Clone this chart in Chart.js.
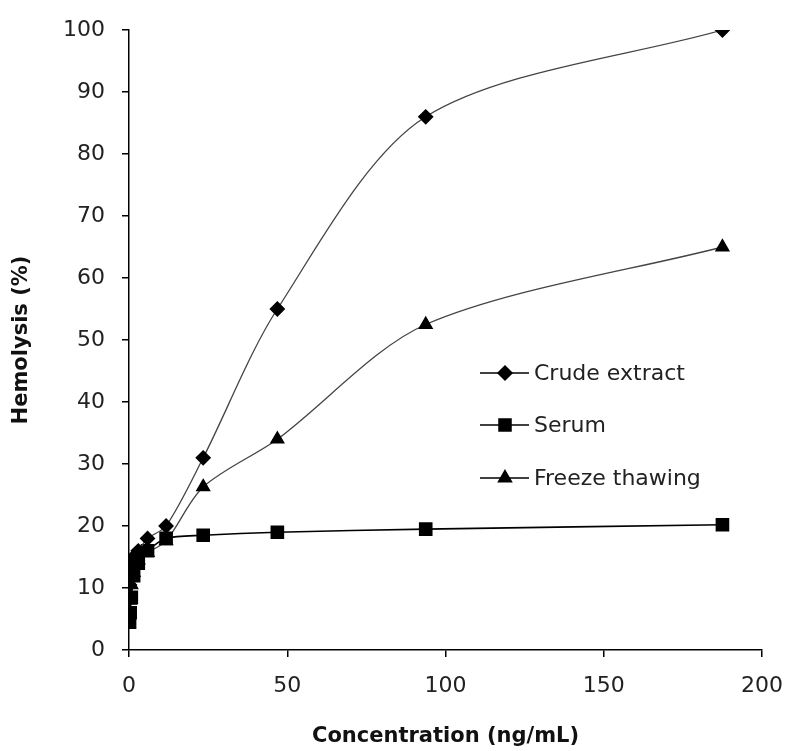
<!DOCTYPE html>
<html>
<head>
<meta charset="utf-8">
<script src="https://cdn.jsdelivr.net/npm/chart.js@4/dist/chart.umd.min.js"></script>
<style>
  html, body { margin: 0; padding: 0; background: #fff; }
  #wrap { width: 790px; height: 751px; }
</style>
</head>
<body>
<div id="wrap"><canvas id="hemo"></canvas></div>
<script>
  // Concentrations (ng/mL), two-fold dilution series
  const concentrations = [0.18, 0.37, 0.73, 1.46, 2.93, 5.86, 11.72, 23.44, 46.875, 93.75, 187.5];

  // Hemolysis (%)
  const crudeExtract = [10.5, 12, 14, 15, 16, 18, 20, 31, 55, 86, 100];
  const serum = [4.5, 6, 8.5, 12, 14, 16, 18, 18.5, 19, 19.5, 20.2];
  const freezeThawing = [6, 8, 10.5, 12.5, 14.5, 15.7, 17.6, 26.3, 34, 52.5, 65];

  const seriesNames = ['Crude extract', 'Serum', 'Freeze thawing'];
  const xTicks = [0, 50, 100, 150, 200];
  const yTicks = [0, 10, 20, 30, 40, 50, 60, 70, 80, 90, 100];

  const FONT = '"DejaVu Sans", "Liberation Sans", Arial, sans-serif';

  function toPoints(values) {
    return values.map(function (v, i) { return { x: concentrations[i], y: v }; });
  }

  // Legend drawn inside the plot, like the original figure
  const insideLegend = {
    id: 'insideLegend',
    afterDraw: function (chart) {
      const ctx = chart.ctx;
      const rows = [373, 425, 478];
      ctx.save();
      chart.data.datasets.forEach(function (ds, i) {
        const y = rows[i];
        ctx.strokeStyle = '#000';
        ctx.lineWidth = 1.5;
        ctx.beginPath();
        ctx.moveTo(480, y);
        ctx.lineTo(529, y);
        ctx.stroke();
        ctx.fillStyle = '#000';
        Chart.helpers.drawPoint(ctx, {
          pointStyle: ds.pointStyle,
          radius: ds.pointRadius,
          borderWidth: 1
        }, 505, y);
        ctx.fillStyle = '#222';
        ctx.font = '22px ' + FONT;
        ctx.textAlign = 'left';
        ctx.textBaseline = 'middle';
        ctx.fillText(ds.label, 534, y + 1);
      });
      ctx.restore();
    }
  };

  new Chart(document.getElementById('hemo'), {
    type: 'line',
    data: {
      datasets: [
        {
          label: seriesNames[0],
          data: toPoints(crudeExtract),
          borderColor: '#444',
          borderWidth: 1.3,
          pointStyle: 'rectRot',
          pointRadius: 7,
          pointBackgroundColor: '#000',
          pointBorderColor: '#000',
          tension: 0.3
        },
        {
          label: seriesNames[1],
          data: toPoints(serum),
          borderColor: '#000',
          borderWidth: 1.6,
          pointStyle: 'rect',
          pointRadius: 8.5,
          pointBackgroundColor: '#000',
          pointBorderColor: '#000',
          tension: 0.3
        },
        {
          label: seriesNames[2],
          data: toPoints(freezeThawing),
          borderColor: '#444',
          borderWidth: 1.3,
          pointStyle: 'triangle',
          pointRadius: 7.5,
          pointBackgroundColor: '#000',
          pointBorderColor: '#000',
          tension: 0.3
        }
      ]
    },
    options: {
      responsive: true,
      maintainAspectRatio: false,
      animation: false,
      layout: { padding: { left: 0, right: 28, top: 30, bottom: 0 } },
      plugins: {
        legend: { display: false },
        tooltip: { enabled: false }
      },
      scales: {
        x: {
          type: 'linear',
          min: 0,
          max: 200,
          afterBuildTicks: function (scale) {
            scale.ticks = xTicks.map(function (v) { return { value: v }; });
          },
          afterFit: function (scale) {
            scale.height = 101;
            scale.paddingLeft = 0;
            scale.paddingRight = 0;
          },
          border: { display: true, color: '#000', width: 1.5 },
          grid: { drawOnChartArea: false, drawTicks: true, tickLength: 7, color: '#000', lineWidth: 1.5 },
          ticks: { color: '#222', font: { family: FONT, size: 22 }, padding: 16, maxRotation: 0 },
          title: {
            display: true,
            text: 'Concentration (ng/mL)',
            color: '#111',
            font: { family: FONT, size: 21, weight: 'bold' },
            padding: { top: 0, bottom: 2 }
          }
        },
        y: {
          type: 'linear',
          min: 0,
          max: 100,
          afterBuildTicks: function (scale) {
            scale.ticks = yTicks.map(function (v) { return { value: v }; });
          },
          afterFit: function (scale) {
            scale.width = 129;
            scale.paddingTop = 0;
            scale.paddingBottom = 0;
          },
          border: { display: true, color: '#000', width: 1.5 },
          grid: { drawOnChartArea: false, drawTicks: true, tickLength: 7, color: '#000', lineWidth: 1.5 },
          ticks: { color: '#222', font: { family: FONT, size: 22 }, padding: 17 },
          title: {
            display: true,
            text: 'Hemolysis (%)',
            color: '#111',
            font: { family: FONT, size: 21, weight: 'bold' },
            padding: { top: 9, bottom: 0 }
          }
        }
      }
    },
    plugins: [insideLegend]
  });
</script>
</body>
</html>
